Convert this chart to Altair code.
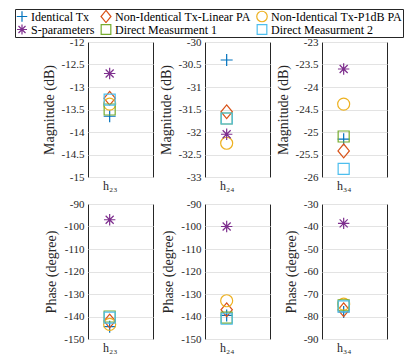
import altair as alt
import pandas as pd

# ---- data -------------------------------------------------------------
series = ["Identical Tx", "Non-Identical Tx-Linear PA", "Non-Identical Tx-P1dB PA",
          "S-parameters", "Direct Measurment 1", "Direct Measurment 2"]
colors = ["#0072BD", "#D95319", "#EDB120", "#7E2F8E", "#77AC30", "#4DBEEE"]
channels = ["h₂₃", "h₂₄", "h₃₄"]

# magnitude (dB), one value per series, order as in `series`
mag_h23 = [-13.65, -13.25, -13.38, -12.70, -13.50, -13.28]
mag_h24 = [-30.40, -31.55, -32.25, -32.05, -31.70, -31.70]
mag_h34 = [-25.16, -25.42, -24.38, -23.60, -25.10, -25.82]

# phase (degree)
phase_h23 = [-144.5, -142.0, -143.5, -97.0, -140.0, -140.5]
phase_h24 = [-139.5, -137.0, -133.0, -100.0, -140.5, -141.0]
phase_h34 = [-78.0, -77.0, -74.5, -38.6, -75.0, -75.5]

# axis limits and tick labels
mag_ticks_h23 = [-15, -14.5, -14, -13.5, -13, -12.5, -12]
mag_ticks_h24 = [-33, -32.5, -32, -31.5, -31, -30.5, -30]
mag_ticks_h34 = [-26, -25.5, -25, -24.5, -24, -23.5, -23]
phase_ticks_h23 = [-150, -140, -130, -120, -110, -100, -90]
phase_ticks_h24 = [-150, -140, -130, -120, -110, -100, -90]
phase_ticks_h34 = [-90, -80, -70, -60, -50, -40, -30]

mags = [mag_h23, mag_h24, mag_h34]
phases = [phase_h23, phase_h24, phase_h34]

rows = []
for i, s in enumerate(series):
    for j, ch in enumerate(channels):
        rows.append({"series": s, "channel": ch, "mag": mags[j][i], "phase": phases[j][i]})
df = pd.DataFrame(rows)

# ---- marker shapes (MATLAB-like) --------------------------------------
plus = "M-1,0H1M0,-1V1"
diamond = "M0,-1.15L0.95,0L0,1.15L-0.95,0Z"
circle = "M1,0A1,1,0,1,1,-1,0A1,1,0,1,1,1,0Z"
star = "M-0.95,0H0.95M0,-0.95V0.95M-0.67,-0.67L0.67,0.67M-0.67,0.67L0.67,-0.67"
square = "M-0.92,-0.92H0.92V0.92H-0.92Z"
shapes = [plus, diamond, circle, star, square, square]

FONT = "Liberation Serif"

legend = alt.Legend(
    title=None, orient="none", legendX=-73, legendY=-33, columns=3, direction="horizontal",
    strokeColor="#262626", fillColor="white", padding=1, rowPadding=0, clipHeight=13,
    columnPadding=5, labelOffset=3, symbolSize=110, symbolStrokeWidth=1.2,
    labelFont=FONT, labelFontSize=12, labelColor="#000000", labelLimit=0,
)

color_enc = alt.Color("series:N", scale=alt.Scale(domain=series, range=colors), legend=legend)
shape_enc = alt.Shape("series:N", scale=alt.Scale(domain=series, range=shapes), legend=legend)


def panel(field, ch, ticks, title):
    return (
        alt.Chart(df)
        .transform_filter(alt.datum.channel == ch)
        .mark_point(filled=False, size=144, strokeWidth=1.2, opacity=1)
        .encode(
            x=alt.X("channel:N", scale=alt.Scale(type="point", align=1 / 3),
                    axis=alt.Axis(title=None, labelAngle=0)),
            y=alt.Y(f"{field}:Q",
                    scale=alt.Scale(domain=[ticks[0], ticks[-1]], nice=False, zero=False),
                    axis=alt.Axis(values=ticks, title=title, labelExpr="'' + datum.value")),
            color=color_enc,
            shape=shape_enc,
        )
        .properties(width=65, height=135)
    )


panels = [
    panel("mag", channels[0], mag_ticks_h23, "Magnitude (dB)"),
    panel("mag", channels[1], mag_ticks_h24, "Magnitude (dB)"),
    panel("mag", channels[2], mag_ticks_h34, "Magnitude (dB)"),
    panel("phase", channels[0], phase_ticks_h23, "Phase (degree)"),
    panel("phase", channels[1], phase_ticks_h24, "Phase (degree)"),
    panel("phase", channels[2], phase_ticks_h34, "Phase (degree)"),
]

chart = (
    alt.concat(*panels, columns=3, spacing={"row": 27, "column": 52}, bounds="flush")
    .properties(padding={"left": 6, "top": 0, "right": 0, "bottom": 0}, background="white")
    .configure(font=FONT)
    .configure_view(stroke="#262626", strokeWidth=1)
    .configure_axis(
        labelFont=FONT, labelFontSize=11, labelColor="#262626",
        titleFont=FONT, titleFontSize=14, titleFontWeight="normal", titleColor="#262626",
        gridColor="#e3e3e3", gridWidth=1, ticks=False, domain=False,
        labelPadding=4, titlePadding=5,
    )
    .configure_axisX(labelFontSize=12, labelPadding=3)
    .configure_legend(labelFont=FONT, labelFontSize=12)
)

chart.save("out.html", embed_options={"renderer": "svg", "actions": False})
